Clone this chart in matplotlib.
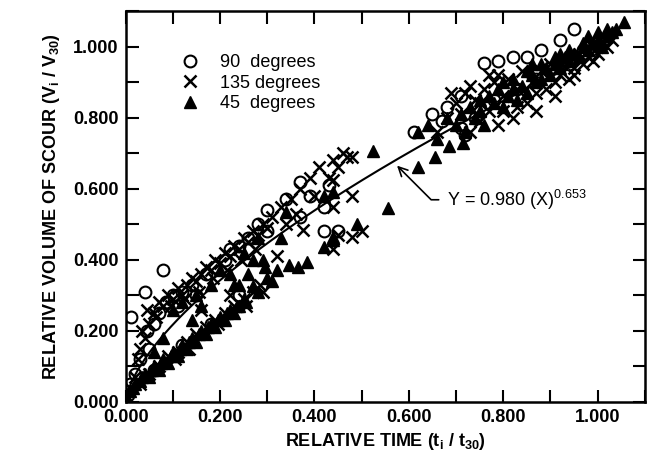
import numpy as np
import matplotlib
matplotlib.use("Agg")
import matplotlib.pyplot as plt
from matplotlib.ticker import MultipleLocator, FormatStrFormatter

plt.rcParams["font.family"] = ["Liberation Sans", "DejaVu Sans"]
plt.rcParams["mathtext.fontset"] = "custom"
plt.rcParams["mathtext.rm"] = "Liberation Sans:bold"
plt.rcParams["mathtext.it"] = "Liberation Sans:bold"

# 90 degrees (open circles)
deg90_x = [0.005, 0.01, 0.012, 0.02, 0.03, 0.04, 0.045, 0.05, 0.06, 0.07, 0.08, 0.085, 0.10, 0.11,
           0.12, 0.14, 0.15, 0.17, 0.19, 0.21, 0.22, 0.24, 0.26, 0.28, 0.30, 0.30, 0.34, 0.37,
           0.37, 0.39, 0.42, 0.42, 0.43, 0.45, 0.06, 0.12, 0.18, 0.24,
           0.61, 0.65, 0.67, 0.68, 0.71, 0.71, 0.72, 0.74, 0.76, 0.79, 0.82, 0.85, 0.88, 0.92,
           0.95, 1.02, 0.78, 0.83, 0.87, 0.90, 0.97, 1.00, 0.94]
deg90_y = [0.02, 0.05, 0.24, 0.08, 0.12, 0.31, 0.20, 0.15, 0.22, 0.25, 0.37, 0.28, 0.30, 0.27,
           0.31, 0.33, 0.30, 0.36, 0.38, 0.40, 0.43, 0.44, 0.46, 0.50, 0.54, 0.48, 0.57, 0.62,
           0.52, 0.58, 0.55, 0.48, 0.61, 0.48, 0.09, 0.16, 0.22, 0.30,
           0.76, 0.81, 0.79, 0.83, 0.86, 0.77, 0.75, 0.80, 0.955, 0.96, 0.97, 0.97, 0.99, 1.02,
           1.05, 1.025, 0.85, 0.88, 0.91, 0.94, 0.99, 1.00, 0.95]

# 135 degrees (crosses)
deg135_x = [0.005, 0.01, 0.02, 0.025, 0.03, 0.04, 0.045, 0.05, 0.06, 0.07, 0.08, 0.09, 0.10, 0.11,
            0.12, 0.13, 0.14, 0.15, 0.16, 0.17, 0.18, 0.19, 0.20, 0.21, 0.22, 0.23, 0.24, 0.25,
            0.26, 0.27, 0.28, 0.29, 0.30, 0.31, 0.33, 0.35, 0.37, 0.39, 0.41, 0.44, 0.45, 0.46,
            0.47, 0.48, 0.44, 0.48, 0.44,
            0.03, 0.05, 0.07, 0.09, 0.11, 0.13, 0.15, 0.17, 0.19, 0.21, 0.23, 0.25, 0.27, 0.29,
            0.32, 0.375, 0.44, 0.45, 0.48, 0.50, 0.22, 0.16,
            0.70, 0.72, 0.74, 0.76, 0.77, 0.78, 0.79, 0.80, 0.81, 0.82, 0.83, 0.84, 0.85, 0.86,
            0.87, 0.88, 0.89, 0.90, 0.91, 0.92, 0.93, 0.94, 0.95, 0.96, 0.97, 0.98, 0.99, 1.00,
            1.01, 1.02, 1.03, 0.66, 0.68, 0.75, 0.73, 0.80, 0.69, 0.73, 0.77, 0.79,
            0.035, 0.065, 0.095, 0.125, 0.155, 0.185, 0.215, 0.245, 0.275, 0.105, 0.135, 0.195,
            0.255, 0.285, 0.34, 0.36, 0.40, 0.43, 0.71, 0.75, 0.83, 0.87, 0.91, 0.95, 0.99]
deg135_y = [0.01, 0.04, 0.07, 0.12, 0.15, 0.18, 0.26, 0.22, 0.25, 0.28, 0.27, 0.30, 0.29, 0.32,
            0.30, 0.33, 0.35, 0.34, 0.36, 0.38, 0.37, 0.40, 0.39, 0.42, 0.41, 0.44, 0.43, 0.46,
            0.45, 0.48, 0.47, 0.50, 0.49, 0.52, 0.55, 0.57, 0.60, 0.63, 0.66, 0.68, 0.66, 0.70,
            0.69, 0.69, 0.625, 0.58, 0.55,
            0.05, 0.08, 0.10, 0.13, 0.14, 0.17, 0.19, 0.21, 0.23, 0.25, 0.27, 0.29, 0.31, 0.31,
            0.41, 0.485, 0.43, 0.47, 0.465, 0.48, 0.30, 0.26,
            0.84, 0.87, 0.85, 0.88, 0.82, 0.90, 0.78, 0.86, 0.91, 0.80, 0.88, 0.93, 0.84, 0.90,
            0.82, 0.93, 0.88, 0.95, 0.86, 0.92, 0.96, 0.91, 0.94, 0.98, 0.95, 0.97, 1.00, 0.98,
            1.01, 1.00, 1.02, 0.76, 0.80, 0.79, 0.76, 0.82, 0.87, 0.89, 0.92, 0.92,
            0.20, 0.24, 0.27, 0.29, 0.31, 0.35, 0.37, 0.40, 0.43, 0.12, 0.15, 0.22,
            0.27, 0.33, 0.50, 0.53, 0.58, 0.63, 0.81, 0.84, 0.83, 0.87, 0.90, 0.92, 0.96]

# 45 degrees (filled triangles)
deg45_x = [0.005, 0.01, 0.02, 0.03, 0.04, 0.05, 0.06, 0.07, 0.08, 0.09, 0.10, 0.11, 0.12, 0.13,
           0.14, 0.15, 0.16, 0.17, 0.18, 0.19, 0.20, 0.21, 0.22, 0.23, 0.24, 0.25, 0.26, 0.27,
           0.295, 0.30, 0.32, 0.345, 0.365, 0.385, 0.42, 0.44, 0.33, 0.34, 0.42, 0.44, 0.44,
           0.49, 0.525, 0.555, 0.62, 0.655, 0.685, 0.715,
           0.10, 0.15, 0.20, 0.25, 0.28, 0.12, 0.18, 0.23, 0.27, 0.22,
           0.70, 0.72, 0.74, 0.75, 0.76, 0.78, 0.80, 0.81, 0.82, 0.83, 0.84, 0.85, 0.86, 0.87,
           0.88, 0.89, 0.90, 0.91, 0.92, 0.93, 0.94, 0.95, 0.96, 0.97, 0.98, 0.99, 1.00, 1.01,
           1.02, 1.03, 1.04, 1.055, 0.64, 0.66, 0.68, 0.62,
           0.015, 0.035, 0.055, 0.075, 0.095, 0.115, 0.135, 0.155, 0.175, 0.195, 0.215, 0.235,
           0.255, 0.28, 0.31, 0.06, 0.08, 0.14, 0.16, 0.24, 0.29,
           0.71, 0.73, 0.77, 0.79, 0.82, 0.85, 0.88, 0.91, 0.94, 0.97, 1.00, 0.75, 0.80, 0.86,
           0.92, 0.98, 1.02]
deg45_y = [0.005, 0.03, 0.05, 0.06, 0.08, 0.07, 0.10, 0.09, 0.12, 0.11, 0.14, 0.13, 0.16, 0.15,
           0.18, 0.17, 0.20, 0.19, 0.22, 0.21, 0.24, 0.23, 0.26, 0.25, 0.27, 0.29, 0.36, 0.325,
           0.38, 0.35, 0.37, 0.385, 0.38, 0.395, 0.435, 0.455, 0.46, 0.535, 0.58, 0.59, 0.465,
           0.50, 0.705, 0.545, 0.66, 0.69, 0.72, 0.73,
           0.26, 0.30, 0.37, 0.42, 0.46, 0.28, 0.33, 0.33, 0.40, 0.36,
           0.78, 0.76, 0.80, 0.82, 0.78, 0.84, 0.83, 0.86, 0.88, 0.85, 0.89, 0.87, 0.92, 0.90,
           0.91, 0.94, 0.92, 0.95, 0.94, 0.97, 0.96, 0.98, 0.97, 1.00, 0.99, 1.01, 1.02, 1.00,
           1.03, 1.04, 1.05, 1.07, 0.78, 0.74, 0.80, 0.76,
           0.04, 0.07, 0.09, 0.11, 0.13, 0.15, 0.17, 0.19, 0.21, 0.23, 0.25, 0.27,
           0.28, 0.31, 0.34, 0.14, 0.18, 0.23, 0.27, 0.33, 0.40,
           0.81, 0.83, 0.86, 0.88, 0.91, 0.93, 0.95, 0.97, 0.99, 1.01, 1.04, 0.85, 0.90, 0.95,
           0.98, 1.03, 1.05]

# fitted curve Y = 0.980 X^0.653
fit_a, fit_b = 0.980, 0.653
fit_x = np.linspace(0, 1.0, 200)
fit_y = fit_a * fit_x ** fit_b

fig = plt.figure(figsize=(6.48, 4.62), dpi=100)
ax = fig.add_axes([0.194, 0.130, 0.801, 0.846])

ax.plot(deg90_x, deg90_y, "o", mfc="none", mec="black", mew=1.5, ms=8.5, label="90  degrees")
ax.plot(deg135_x, deg135_y, "x", color="black", mew=1.8, ms=9, label="135 degrees")
ax.plot(deg45_x, deg45_y, "^", color="black", ms=8, label="45  degrees")
ax.plot(fit_x, fit_y, "-", color="black", lw=1.5)

ax.annotate("Y = 0.980 (X)$^{\\mathregular{0.653}}$", xy=(0.575, 0.665), xytext=(0.681, 0.569),
            fontsize=13, va="center", ha="left",
            arrowprops=dict(arrowstyle="->,head_length=0.5,head_width=0.25", color="black", lw=1.2,
                            connectionstyle="angle,angleA=0,angleB=135,rad=0",
                            relpos=(0, 0.5), shrinkA=4, shrinkB=0))

ax.set_xlim(0, 1.1)
ax.set_ylim(0, 1.1)
for a in (ax.xaxis, ax.yaxis):
    a.set_major_locator(MultipleLocator(0.2))
    a.set_minor_locator(MultipleLocator(0.1))
    a.set_major_formatter(FormatStrFormatter("%.3f"))
ax.tick_params(which="both", direction="in", top=True, right=True, length=9, width=1.5,
               labelsize=13, pad=5)
for lab in ax.get_xticklabels() + ax.get_yticklabels():
    lab.set_fontweight("bold")
for s in ax.spines.values():
    s.set_linewidth(1.8)

ax.set_xlabel("RELATIVE TIME (t$_i$ / t$_{30}$)", fontsize=13, fontweight="bold", labelpad=4)
ax.set_ylabel("RELATIVE VOLUME OF SCOUR (V$_i$ / V$_{30}$)", fontsize=13, fontweight="bold",
              labelpad=8)

ax.legend(loc="upper left", bbox_to_anchor=(0.106, 0.89), frameon=False, fontsize=13,
          handlelength=1.0, handletextpad=1.15, labelspacing=0.2, borderpad=0, borderaxespad=0)

fig.savefig("out.png", dpi=100, facecolor="white")
